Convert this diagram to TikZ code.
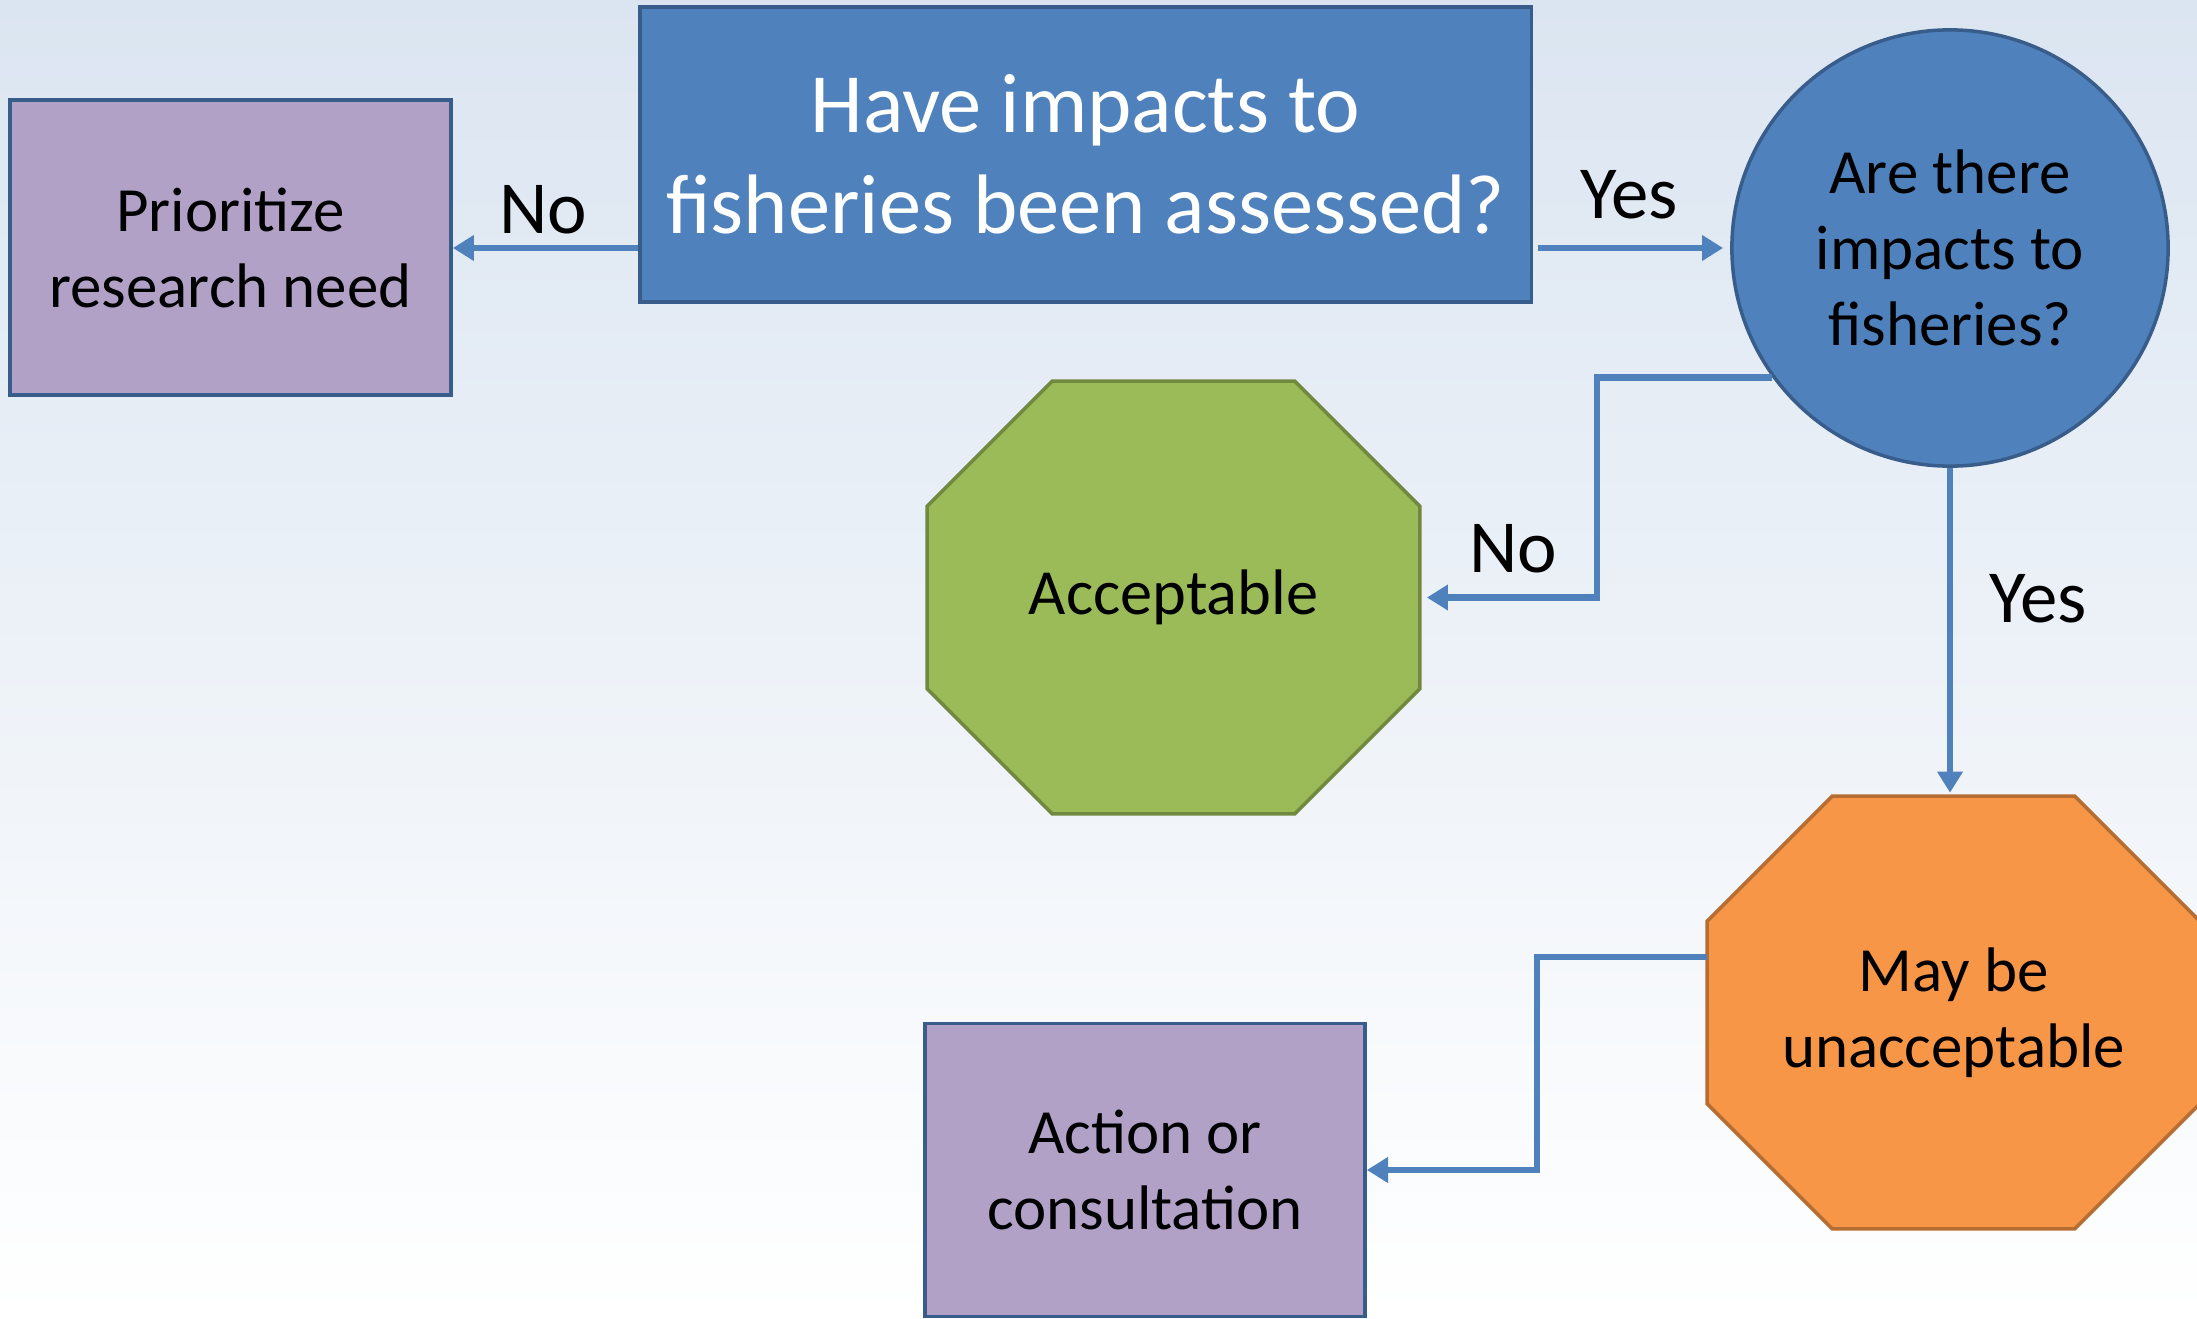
\documentclass[tikz,border=0pt]{standalone}
\usepackage{fontspec}
\setmainfont{Carlito}
\usetikzlibrary{arrows.meta,backgrounds,calc}
\definecolor{bgtop}{RGB}{219,229,241}
\definecolor{qblue}{RGB}{79,129,189}
\definecolor{qborder}{RGB}{56,93,138}
\definecolor{purp}{RGB}{178,161,199}
\definecolor{grn}{RGB}{155,187,89}
\definecolor{grnb}{RGB}{113,137,63}
\definecolor{org}{RGB}{247,150,70}
\definecolor{orgb}{RGB}{182,109,49}
\newcommand\octpath[1]{($(#1.north west)+(125,0)$) -- ($(#1.north east)+(-125,0)$) -- ($(#1.north east)+(0,125)$) -- ($(#1.south east)+(0,-125)$) -- ($(#1.south east)+(-125,0)$) -- ($(#1.south west)+(125,0)$) -- ($(#1.south west)+(0,-125)$) -- ($(#1.north west)+(0,125)$) -- cycle}
\begin{document}
\begin{tikzpicture}[x=0.01cm,y=-0.01cm,
  box/.style={rectangle, draw=qborder, line width=1pt, inner sep=0pt, align=center},
  conn/.style={draw=qblue, line width=1.9pt, -{Triangle[length=6pt,width=7pt]}},
  lbl/.style={font=\fontsize{21.3}{25}\selectfont, anchor=base, inner sep=0pt},
  small/.style={font=\fontsize{17.9}{21.6}\selectfont},
  octo/.style={rectangle, inner sep=0pt, align=center, minimum width=4.91cm, minimum height=4.31cm}
]
\useasboundingbox (0,0) rectangle (2197,1318);
% nodes
\node[box, fill=purp, small, minimum width=4.41cm, minimum height=2.95cm] (prio) at (230.5,247.5) {Prioritize\\research need};
\node[box, fill=qblue, text=white, font=\fontsize{24}{28.7}\selectfont, minimum width=8.91cm, minimum height=2.95cm] (q1) at (1085.5,154.5) {Have impacts to\\fisheries been assessed?};
\node[circle, draw=qborder, line width=1pt, fill=qblue, inner sep=0pt, minimum size=4.36cm, align=center, small] (q2) at (1950,248) {Are there\\impacts to\\fisheries?};
\node[octo, font=\fontsize{18.3}{22}\selectfont] (acc) at (1173.5,597.5) {Acceptable};
\node[octo, small] (may) at (1953.5,1012.5) {May be\\unacceptable};
\node[box, fill=purp, small, minimum width=4.40cm, minimum height=2.93cm] (act) at (1145,1170) {Action or\\consultation};
% octagon shapes
\begin{pgfonlayer}{background}
\shade[top color=bgtop, bottom color=white] (0,0) rectangle (2197,1318);
\filldraw[fill=grn, draw=grnb, line width=1pt] \octpath{acc};
\filldraw[fill=org, draw=orgb, line width=1pt] \octpath{may};
\end{pgfonlayer}
% helper coordinates
\coordinate (n1) at (1597,599);
\coordinate (m1) at (1537,957);
% connectors
\draw[conn] (q1.west |- q2) -- (prio.east |- q2);
\draw[conn, shorten <=1.5pt, shorten >=2pt] (q1.east |- q2) -- (q2.west);
\draw[conn, shorten >=2pt] (q2.216) -- (q2.216 -| n1) |- (acc.east);
\draw[conn, shorten >=1pt] (q2.south) -- (q2.south |- may.north);
\draw[conn] (m1 -| may.west) -- (m1) |- (act.east);
% labels
\node[lbl] (l1) at (543,233) {No};
\node[lbl] (l2) at (1629,218) {Yes};
\node[lbl] (l3) at (1513,572) {No};
\node[lbl] (l4) at (2038,622) {Yes};
\end{tikzpicture}
\end{document}
